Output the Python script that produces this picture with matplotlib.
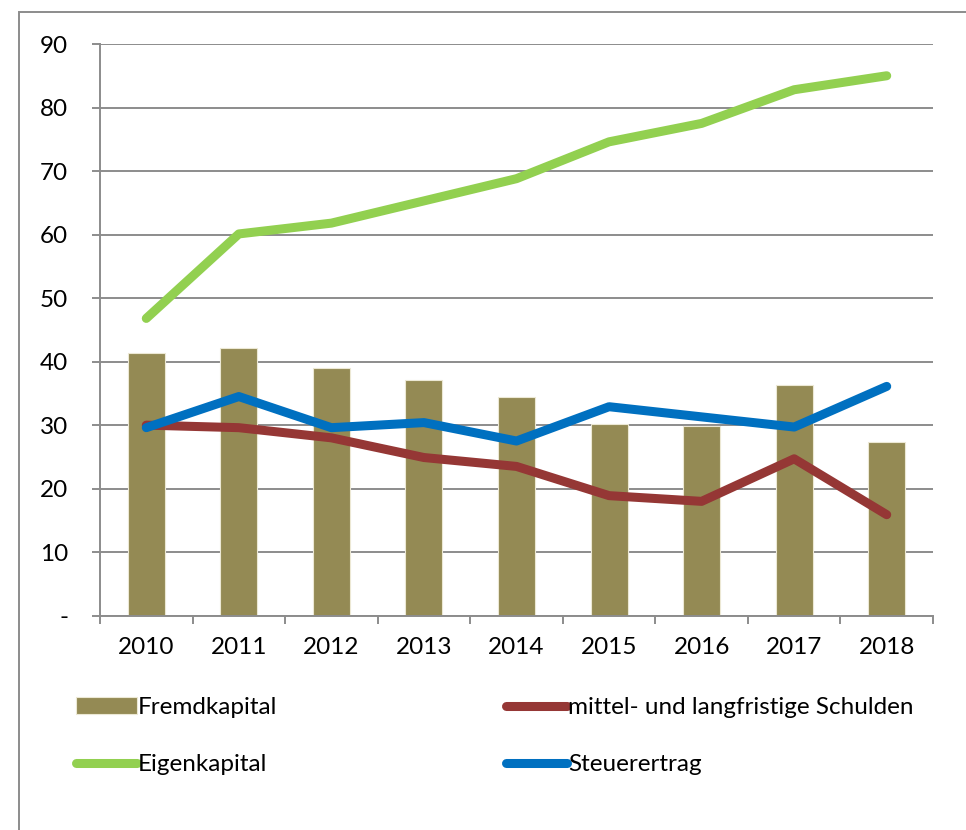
import matplotlib
matplotlib.use("Agg")
import matplotlib.pyplot as plt
from matplotlib.patches import Rectangle
import numpy as np

# data
years = ["2010", "2011", "2012", "2013", "2014", "2015", "2016", "2017", "2018"]
fremdkapital = [41.3, 42.2, 39.0, 37.1, 34.5, 30.2, 29.8, 36.3, 27.3]
eigenkapital = [46.8, 60.1, 61.8, 65.3, 68.8, 74.6, 77.5, 82.8, 85.0]
schulden = [30.0, 29.6, 28.0, 24.9, 23.5, 18.9, 18.0, 24.7, 15.9]
steuerertrag = [29.6, 34.5, 29.6, 30.4, 27.5, 32.9, 31.3, 29.7, 36.1]
y_ticks = [0, 10, 20, 30, 40, 50, 60, 70, 80, 90]
y_labels = ["-", "10", "20", "30", "40", "50", "60", "70", "80", "90"]

plt.rcParams['font.family'] = ['Lato', 'DejaVu Sans']
grey = "#8c8c8c"
fsize = 17.5

fig = plt.figure(figsize=(9.66, 8.3), dpi=100)
ax = fig.add_axes([100 / 966, 1 - 615.7 / 830, 833 / 966, (615.7 - 44) / 830])

x = np.arange(len(years))
bars = ax.bar(x, fremdkapital, width=0.4, color="#948a54", edgecolor="#ece8d4",
              linewidth=0.8, label="Fremdkapital", zorder=2)
line_kw = dict(linewidth=6.5, solid_capstyle="round", solid_joinstyle="round", zorder=3)
l_eigen, = ax.plot(x, eigenkapital, color="#92d050", label="Eigenkapital", **line_kw)
l_schuld, = ax.plot(x, schulden, color="#953735", label="mittel- und langfristige Schulden", **line_kw)
l_steuer, = ax.plot(x, steuerertrag, color="#0070c0", label="Steuerertrag", **line_kw)

ax.set_xlim(-0.5, len(years) - 0.5)
ax.set_ylim(0, 90)
ax.set_yticks(y_ticks)
ax.set_yticklabels(y_labels)
ax.set_xticks(x)
ax.set_xticklabels(years)
ax.set_xticks(np.arange(-0.5, len(years)), minor=True)

ax.tick_params(axis="y", which="major", length=6, width=1.4, color=grey,
               labelsize=fsize, pad=17)
ax.tick_params(axis="x", which="major", length=0, labelsize=fsize, pad=15)
ax.tick_params(axis="x", which="minor", length=6, width=1.4, color=grey)

ax.grid(axis="y", color=grey, linewidth=1.4, zorder=0)
ax.set_axisbelow(True)
for side in ["top", "right"]:
    ax.spines[side].set_visible(False)
for side in ["left", "bottom"]:
    ax.spines[side].set_color(grey)
    ax.spines[side].set_linewidth(1.4)

# legend below the plot, two columns
fig.legend(handles=[bars, l_eigen, l_schuld, l_steuer], ncol=2,
           loc="upper left", bbox_to_anchor=(76 / 966, 1 - 697 / 830),
           frameon=False, fontsize=fsize, handlelength=2.5, handletextpad=0.05,
           columnspacing=9.4, labelspacing=1.5, borderaxespad=0, borderpad=0)

# outer frame of the chart area
fig.add_artist(Rectangle((19 / 966, -0.1), 2, 1 - 12 / 830 + 0.1,
                         transform=fig.transFigure, fill=False,
                         edgecolor=grey, linewidth=1.4, clip_on=False))

fig.savefig("out.png", dpi=100)
